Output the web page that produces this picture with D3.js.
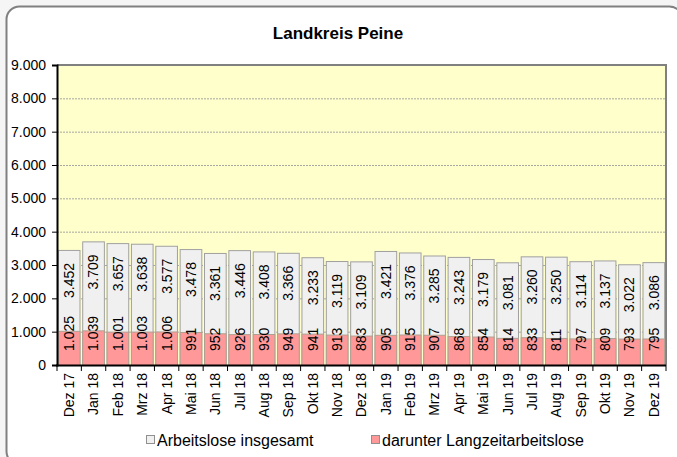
<!DOCTYPE html>
<html>
<head>
<meta charset="utf-8">
<script src="https://d3js.org/d3.v7.min.js"></script>
<style>
  body { margin: 0; background: #f5f5f5; }
  svg { display: block; font-family: Arial, "Liberation Sans", sans-serif; }
</style>
</head>
<body>
<script>
// data
var months = ["Dez 17","Jan 18","Feb 18","Mrz 18","Apr 18","Mai 18","Jun 18","Jul 18","Aug 18","Sep 18","Okt 18","Nov 18",
              "Dez 18","Jan 19","Feb 19","Mrz 19","Apr 19","Mai 19","Jun 19","Jul 19","Aug 19","Sep 19","Okt 19","Nov 19","Dez 19"];
var insgesamt = [3452,3709,3657,3638,3577,3478,3361,3446,3408,3366,3233,3119,3109,3421,3376,3285,3243,3179,3081,3260,3250,3114,3137,3022,3086];
var langzeit = [1025,1039,1001,1003,1006,991,952,926,930,949,941,913,883,905,915,907,868,854,814,833,811,797,809,793,795];
var yTicks = [0,1000,2000,3000,4000,5000,6000,7000,8000,9000];
var seriesNames = ["Arbeitslose insgesamt", "darunter Langzeitarbeitslose"];

var de = d3.formatLocale({decimal: ",", thousands: ".", grouping: [3], currency: ["", " €"]});
var fmt = de.format(",d");

var W = 677, H = 457;
var svg = d3.select("body").append("svg").attr("width", W).attr("height", H);

// outer frame
svg.append("rect").attr("x", 6.5).attr("y", 6.5).attr("width", 676).attr("height", 458)
  .attr("rx", 13).attr("fill", "#ffffff").attr("stroke", "#808080").attr("stroke-width", 2);

svg.append("text").attr("x", 338).attr("y", 39).attr("text-anchor", "middle")
  .style("font-size", "17px").style("font-weight", "bold").text("Landkreis Peine");

var pL = 57, pR = 666, pT = 65, pB = 365;

var x = d3.scaleBand().domain(months).range([pL, pR]).paddingInner(0.07).paddingOuter(0.035);
var y = d3.scaleLinear().domain([0, 9000]).range([pB, pT]);

// plot background
svg.append("rect").attr("x", pL).attr("y", pT).attr("width", pR - pL).attr("height", pB - pT)
  .attr("fill", "#ffffcc");

// gridlines
svg.append("g").selectAll("line").data(yTicks.filter(function(d){ return d > 0 && d < 9000; }))
  .enter().append("line")
  .attr("x1", pL).attr("x2", pR)
  .attr("y1", function(d){ return y(d) + 0.5; }).attr("y2", function(d){ return y(d) + 0.5; })
  .attr("stroke", "#a8a8a0").attr("stroke-dasharray", "2,1").attr("stroke-width", 1);

// plot border (top/right)
svg.append("path").attr("d", "M" + pL + "," + pT + "H" + pR + "V" + pB)
  .attr("fill", "none").attr("stroke", "#808080").attr("stroke-width", 2);

// total bars
svg.append("g").selectAll("rect").data(insgesamt).enter().append("rect")
  .attr("x", function(d, i){ return x(months[i]) + 0.5; })
  .attr("y", function(d){ return y(d) + 0.5; })
  .attr("width", x.bandwidth() - 1)
  .attr("height", function(d){ return pB - y(d); })
  .attr("fill", "#f0f0f0").attr("stroke", "#a0a0a0").attr("stroke-width", 1);

// long-term bars
svg.append("g").selectAll("rect").data(langzeit).enter().append("rect")
  .attr("x", function(d, i){ return x(months[i]) + 0.5; })
  .attr("y", function(d){ return y(d) + 0.5; })
  .attr("width", x.bandwidth() - 1)
  .attr("height", function(d){ return pB - y(d); })
  .attr("fill", "#ff9999").attr("stroke", "#b0a090").attr("stroke-width", 1);

// value labels
var cx = function(i){ return x(months[i]) + x.bandwidth() / 2; };
svg.append("g").selectAll("text").data(insgesamt).enter().append("text")
  .attr("transform", function(d, i){ return "translate(" + cx(i) + "," + (y(d) + 13) + ") rotate(-90)"; })
  .attr("text-anchor", "end").attr("dy", "0.35em")
  .style("font-size", "14px").text(function(d){ return fmt(d); });

svg.append("g").selectAll("text").data(langzeit).enter().append("text")
  .attr("transform", function(d, i){ return "translate(" + cx(i) + "," + (pB - 14) + ") rotate(-90)"; })
  .attr("text-anchor", "start").attr("dy", "0.35em")
  .style("font-size", "14px").text(function(d){ return fmt(d); });

// y axis
var yAxis = svg.append("g").attr("transform", "translate(" + pL + ",0)")
  .call(d3.axisLeft(y).tickValues(yTicks).tickFormat(fmt).tickSize(5).tickPadding(6));
yAxis.select(".domain").attr("stroke", "#000").attr("stroke-width", 2);
yAxis.selectAll("text").style("font-size", "14px").style("font-family", "Arial, 'Liberation Sans', sans-serif").attr("fill", "#000");

// x axis
var xa = svg.append("g");
xa.append("line").attr("x1", pL - 1).attr("x2", pR).attr("y1", pB + 0.5).attr("y2", pB + 0.5)
  .attr("stroke", "#000").attr("stroke-width", 2);
xa.selectAll("line.tick").data(d3.range(months.length + 1)).enter().append("line")
  .attr("class", "tick")
  .attr("x1", function(i){ return pL + i * (pR - pL) / months.length; })
  .attr("x2", function(i){ return pL + i * (pR - pL) / months.length; })
  .attr("y1", pB).attr("y2", pB + 6).attr("stroke", "#000");
xa.selectAll("text").data(months).enter().append("text")
  .attr("transform", function(d){ return "translate(" + (x(d) + x.bandwidth() / 2) + "," + (pB + 8) + ") rotate(-90)"; })
  .attr("text-anchor", "end").attr("dy", "0.35em")
  .style("font-size", "14px").text(function(d){ return d; });

// legend
var legendColors = ["#f0f0f0", "#ff9999"];
var legendX = [146, 371];
var lg = svg.append("g").selectAll("g").data(seriesNames).enter().append("g")
  .attr("transform", function(d, i){ return "translate(" + legendX[i] + ",435)"; });
lg.append("rect").attr("x", 0.5).attr("y", 0.5).attr("width", 8).attr("height", 8)
  .attr("fill", function(d, i){ return legendColors[i]; }).attr("stroke", "#909090");
lg.append("text").attr("x", 11).attr("y", 11).style("font-size", "16px").text(function(d){ return d; });
</script>
</body>
</html>
